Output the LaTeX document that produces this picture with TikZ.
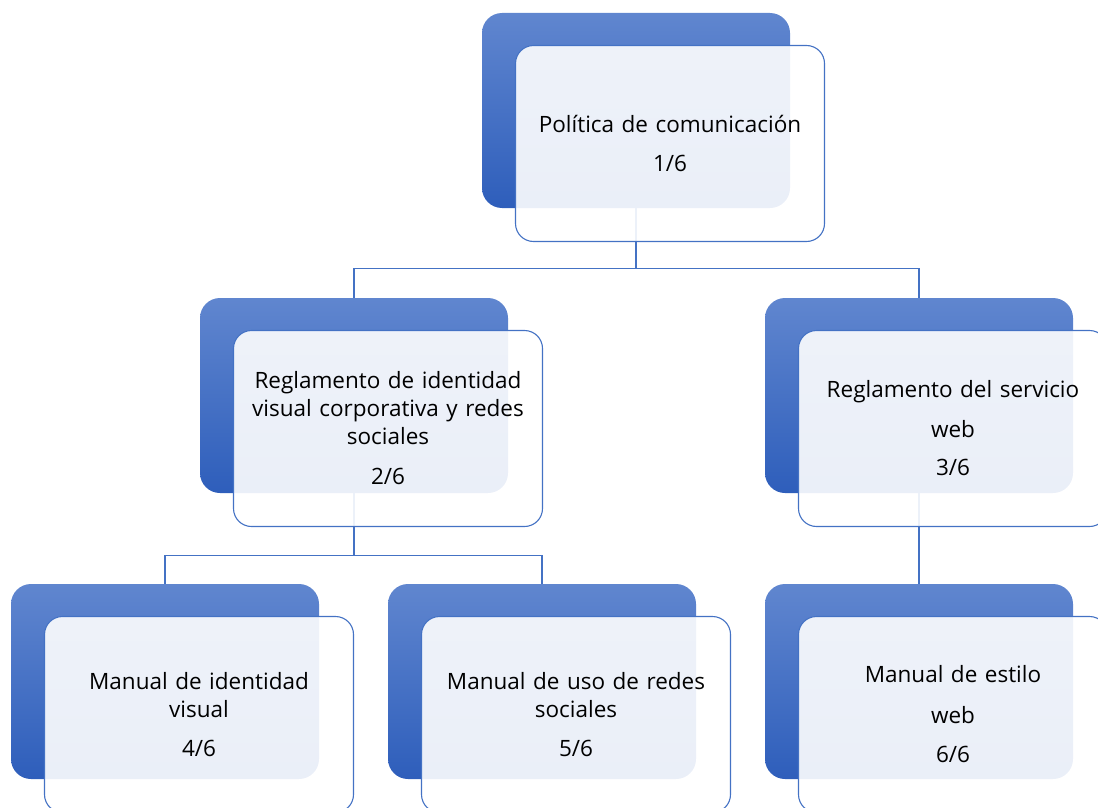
\documentclass[tikz,border=0pt]{standalone}
\usepackage{fontspec}
\setmainfont{Open Sans}
\usepackage{xcolor}
\definecolor{boxblue}{RGB}{68,114,196}
\definecolor{toptone}{RGB}{96,134,207}
\definecolor{bottomtone}{RGB}{46,94,187}
\tikzstyle{back}=[rounded corners=20pt, minimum width=308pt, minimum height=195pt, inner sep=0pt, top color=toptone, bottom color=bottomtone]
\tikzstyle{front}=[rounded corners=18pt, draw=boxblue, line width=1.1pt, fill=white, fill opacity=0.9, text opacity=1, minimum width=309pt, minimum height=196pt, inner sep=0pt, text width=304pt, align=center, font=\fontsize{22.5}{28}\selectfont]
\tikzstyle{link}=[draw=boxblue, line width=1.1pt]
\newcommand{\card}[2]{\node[front, xshift=34pt, yshift=-33pt] (f#1) at (b#1) {#2};}

\begin{document}
\begin{tikzpicture}[x=1pt, y=-1pt]
\useasboundingbox (0,0) rectangle (1098,808);
\foreach \n/\x/\y in {1/636/110.5, 2/354/395.5, 3/919/395.5, 4/165/681.5, 5/542/681.5, 6/919/681.5}{
	\node[back] (b\n) at (\x,\y) {};
	}
% tree lines
\draw[link] (b1.south) -- ++(0,60) -| (b2.north) (b1.south) -- ++(0,60) -| (b3.north);
\draw[link] (b2.south) -- ++(0,62) -| (b4.north) (b2.south) -- ++(0,62) -| (b5.north);
\draw[link] (b3.south) -- (b6.north);
\card{1}{Política de comunicación\\[11pt] 1/6}
\card{2}{Reglamento de identidad\\ visual corporativa y redes\\ sociales\\[12pt] 2/6}
\card{3}{Reglamento del servicio\\[12pt] web\\[10pt] 3/6}
\card{4}{Manual de identidad\\ visual\\[11pt] 4/6}
\card{5}{Manual de uso de redes\\ sociales\\[11pt] 5/6}
\card{6}{Manual de estilo\\[13pt] web\\[11pt] 6/6}
\end{tikzpicture}
\end{document}
